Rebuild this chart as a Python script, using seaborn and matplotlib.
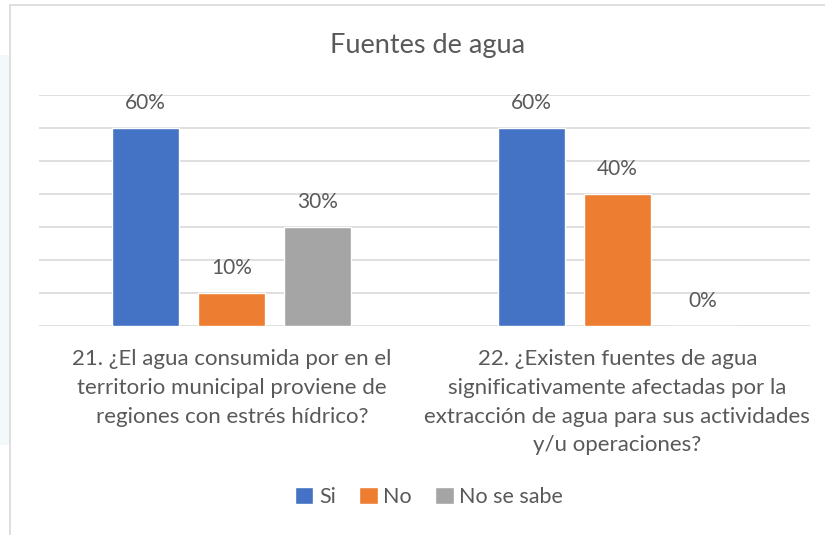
import numpy as np
import pandas as pd
import matplotlib.pyplot as plt
import seaborn as sns
from matplotlib.lines import Line2D
from matplotlib.patches import Rectangle

# Datos del grafico
preguntas = [
    "21. ¿El agua consumida por en el\nterritorio municipal proviene de\nregiones con estrés hídrico?",
    "22. ¿Existen fuentes de agua\nsignificativamente afectadas por la\nextracción de agua para sus actividades\ny/u operaciones?",
]
respuestas = ["Si", "No", "No se sabe"]
valores_21 = [0.60, 0.10, 0.30]
valores_22 = [0.60, 0.40, 0.00]

colores = ["#4472C4", "#ED7D31", "#A5A5A5"]
texto = "#595959"

df = pd.DataFrame({
    "Pregunta": [preguntas[0]] * 3 + [preguntas[1]] * 3,
    "Respuesta": respuestas * 2,
    "Valor": valores_21 + valores_22,
})

sns.set_style("white")
plt.rcParams["font.family"] = ["Lato", "DejaVu Sans"]

fig = plt.figure(figsize=(8.25, 5.35), dpi=100)
ax = fig.add_axes([39 / 825, 1 - 326 / 535, 771 / 825, 231 / 535])

sns.barplot(data=df, x="Pregunta", y="Valor", hue="Respuesta", hue_order=respuestas,
            palette=colores, saturation=1, width=0.669, gap=0.22, errorbar=None, ax=ax)

for cont, vals in zip(ax.containers, [[valores_21[i], valores_22[i]] for i in range(3)]):
    ax.bar_label(cont, labels=[f"{v:.0%}" for v in vals], padding=11, fontsize=15, color=texto)

ax.set_ylim(0, 0.7)
ax.set_yticks(np.arange(0, 0.71, 0.1))
ax.yaxis.grid(True, color="#D9D9D9", linewidth=1.2)
ax.set_axisbelow(True)
ax.tick_params(axis="y", left=False, labelleft=False)
ax.tick_params(axis="x", bottom=False, pad=13, labelsize=16, labelcolor=texto)
for lbl in ax.get_xticklabels():
    lbl.set_linespacing(1.55)
for s in ax.spines.values():
    s.set_visible(False)
ax.set_xlabel("")
ax.set_ylabel("")

ax.legend(loc="center", bbox_to_anchor=(0.52, 0.071), bbox_transform=fig.transFigure,
          ncol=3, frameon=False, fontsize=15.5, labelcolor=texto, handlelength=0.85,
          handleheight=0.85, handletextpad=0.25, columnspacing=1.1)

fig.text(0.518, 1 - 45 / 535, "Fuentes de agua", ha="center", va="center", fontsize=19.5, color=texto)

# marco del grafico y fondo a la izquierda
fig.add_artist(Rectangle((0, 90 / 535), 9 / 825, 390 / 535, transform=fig.transFigure,
                         facecolor="#F3F8FA", edgecolor="none", zorder=0))
fig.add_artist(Line2D([10 / 825, 10 / 825], [0, 1 - 5 / 535], color="#D9D9D9", linewidth=1.2))
fig.add_artist(Line2D([10 / 825, 1], [1 - 5 / 535, 1 - 5 / 535], color="#D9D9D9", linewidth=1.2))

fig.savefig("out.png", dpi=100)
